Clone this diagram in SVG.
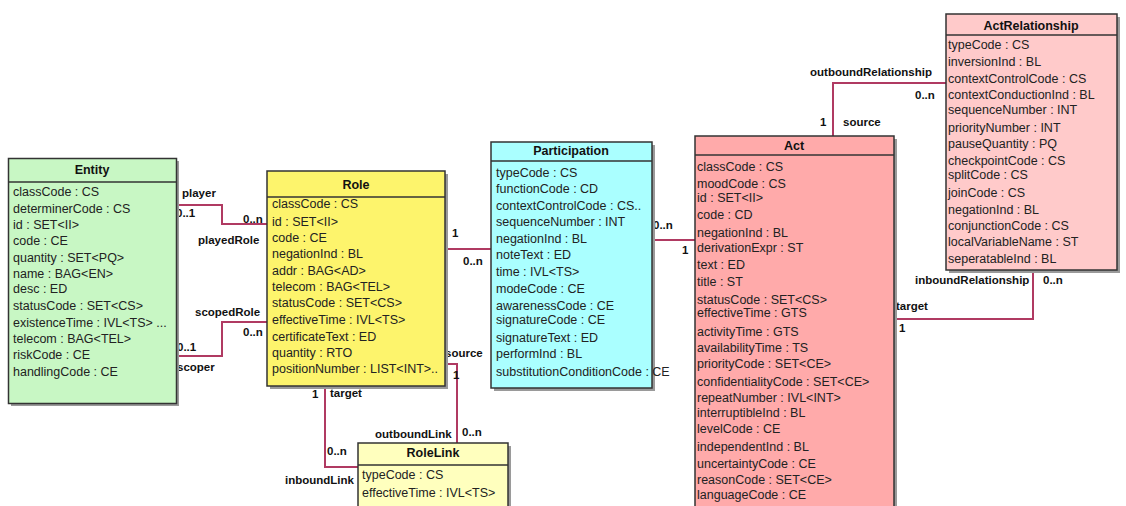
<svg xmlns="http://www.w3.org/2000/svg" width="1126" height="506" viewBox="0 0 1126 506">
<style>
.box{stroke:#333;stroke-width:1.5}
.sh{fill:#9a9a9a}
.hd{font-family:"Liberation Sans",Arial,sans-serif;font-size:12.5px;font-weight:bold;fill:#111;text-anchor:middle}
.at{font-family:"Liberation Sans",Arial,sans-serif;font-size:12.5px;fill:#222}
.lb{font-family:"Liberation Sans",Arial,sans-serif;font-size:11.5px;font-weight:bold;fill:#111}
.cn{fill:none;stroke:#b03a62;stroke-width:2}
</style>
<rect width="1126" height="506" fill="#fff"/>
<g id="connectors">
<polyline class="cn" points="176,205 222,205 222,224 267,224"/>
<polyline class="cn" points="267,322 222,322 222,356 176,356"/>
<polyline class="cn" points="445,249 491,249"/>
<polyline class="cn" points="652,240 695,240"/>
<polyline class="cn" points="833,136 833,83 946,83"/>
<polyline class="cn" points="1033,270 1033,319 894,319"/>
<polyline class="cn" points="325,386 325,467 358,467"/>
<polyline class="cn" points="445,364 457,364 457,443"/>
<text class="lb" x="182" y="197">player</text>
<text class="lb" x="176" y="217">0..1</text>
<text class="lb" x="243" y="223">0..n</text>
<text class="lb" x="198" y="244">playedRole</text>
<text class="lb" x="195" y="316">scopedRole</text>
<text class="lb" x="243" y="336">0..n</text>
<text class="lb" x="177" y="351">0..1</text>
<text class="lb" x="177" y="371">scoper</text>
<text class="lb" x="452" y="237">1</text>
<text class="lb" x="463" y="265">0..n</text>
<text class="lb" x="653" y="229">0..n</text>
<text class="lb" x="682" y="254">1</text>
<text class="lb" x="810" y="76">outboundRelationship</text>
<text class="lb" x="915" y="99">0..n</text>
<text class="lb" x="820" y="126">1</text>
<text class="lb" x="843" y="126">source</text>
<text class="lb" x="915" y="284">inboundRelationship</text>
<text class="lb" x="1043" y="284">0..n</text>
<text class="lb" x="896" y="310">target</text>
<text class="lb" x="899" y="332">1</text>
<text class="lb" x="445" y="357">source</text>
<text class="lb" x="453" y="379">1</text>
<text class="lb" x="312" y="398">1</text>
<text class="lb" x="330" y="397">target</text>
<text class="lb" x="375" y="438">outboundLink</text>
<text class="lb" x="462" y="436">0..n</text>
<text class="lb" x="327" y="455">0..n</text>
<text class="lb" x="285" y="484">inboundLink</text>
</g>
<g id="Entity">
<rect class="sh" x="11" y="161" width="168" height="245"/>
<rect class="box" x="8.5" y="158.5" width="168" height="245" fill="#c8f7c4"/>
<line class="box" x1="8.5" y1="182" x2="176.5" y2="182"/>
<text class="hd" x="92" y="174">Entity</text>
<text class="at" x="13" y="196">classCode : CS</text>
<text class="at" x="13" y="213">determinerCode : CS</text>
<text class="at" x="13" y="229">id : SET&lt;II&gt;</text>
<text class="at" x="13" y="245">code : CE</text>
<text class="at" x="13" y="262">quantity : SET&lt;PQ&gt;</text>
<text class="at" x="13" y="278">name : BAG&lt;EN&gt;</text>
<text class="at" x="13" y="293">desc : ED</text>
<text class="at" x="13" y="310">statusCode : SET&lt;CS&gt;</text>
<text class="at" x="13" y="327">existenceTime : IVL&lt;TS&gt; ...</text>
<text class="at" x="13" y="343">telecom : BAG&lt;TEL&gt;</text>
<text class="at" x="13" y="359">riskCode : CE</text>
<text class="at" x="13" y="376">handlingCode : CE</text>
</g>
<g id="Role">
<rect class="sh" x="270" y="174" width="178" height="215"/>
<rect class="box" x="267" y="171" width="178" height="215" fill="#fdf46c"/>
<line class="box" x1="267" y1="197" x2="445" y2="197"/>
<text class="hd" x="356" y="189">Role</text>
<text class="at" x="272" y="208">classCode : CS</text>
<text class="at" x="272" y="226">id : SET&lt;II&gt;</text>
<text class="at" x="272" y="242">code : CE</text>
<text class="at" x="272" y="258">negationInd : BL</text>
<text class="at" x="272" y="275">addr : BAG&lt;AD&gt;</text>
<text class="at" x="272" y="291">telecom : BAG&lt;TEL&gt;</text>
<text class="at" x="272" y="307">statusCode : SET&lt;CS&gt;</text>
<text class="at" x="272" y="324">effectiveTime : IVL&lt;TS&gt;</text>
<text class="at" x="272" y="341">certificateText : ED</text>
<text class="at" x="272" y="357">quantity : RTO</text>
<text class="at" x="272" y="373">positionNumber : LIST&lt;INT&gt;..</text>
</g>
<g id="Participation">
<rect class="sh" x="494" y="145" width="161" height="246"/>
<rect class="box" x="491" y="142" width="161" height="246" fill="#aaffff"/>
<line class="box" x1="491" y1="161" x2="652" y2="161"/>
<text class="hd" x="571" y="155">Participation</text>
<text class="at" x="496" y="177">typeCode : CS</text>
<text class="at" x="496" y="193">functionCode : CD</text>
<text class="at" x="496" y="210">contextControlCode : CS..</text>
<text class="at" x="496" y="226">sequenceNumber : INT</text>
<text class="at" x="496" y="243">negationInd : BL</text>
<text class="at" x="496" y="259">noteText : ED</text>
<text class="at" x="496" y="276">time : IVL&lt;TS&gt;</text>
<text class="at" x="496" y="293">modeCode : CE</text>
<text class="at" x="496" y="310">awarenessCode : CE</text>
<text class="at" x="496" y="324">signatureCode : CE</text>
<text class="at" x="496" y="342">signatureText : ED</text>
<text class="at" x="496" y="358">performInd : BL</text>
<text class="at" x="496" y="376">substitutionConditionCode : CE</text>
</g>
<g id="Act">
<rect class="sh" x="698" y="139" width="199" height="380"/>
<rect class="box" x="695" y="136" width="199" height="380" fill="#ffaaaa"/>
<line class="box" x1="695" y1="155" x2="894" y2="155"/>
<text class="hd" x="794" y="150">Act</text>
<text class="at" x="697" y="171">classCode : CS</text>
<text class="at" x="697" y="188">moodCode : CS</text>
<text class="at" x="697" y="202">id : SET&lt;II&gt;</text>
<text class="at" x="697" y="219">code : CD</text>
<text class="at" x="697" y="237">negationInd : BL</text>
<text class="at" x="697" y="252">derivationExpr : ST</text>
<text class="at" x="697" y="269">text : ED</text>
<text class="at" x="697" y="286">title : ST</text>
<text class="at" x="697" y="304">statusCode : SET&lt;CS&gt;</text>
<text class="at" x="697" y="317">effectiveTime : GTS</text>
<text class="at" x="697" y="336">activityTime : GTS</text>
<text class="at" x="697" y="352">availabilityTime : TS</text>
<text class="at" x="697" y="368">priorityCode : SET&lt;CE&gt;</text>
<text class="at" x="697" y="386">confidentialityCode : SET&lt;CE&gt;</text>
<text class="at" x="697" y="402">repeatNumber : IVL&lt;INT&gt;</text>
<text class="at" x="697" y="417">interruptibleInd : BL</text>
<text class="at" x="697" y="433">levelCode : CE</text>
<text class="at" x="697" y="451">independentInd : BL</text>
<text class="at" x="697" y="468">uncertaintyCode : CE</text>
<text class="at" x="697" y="484">reasonCode : SET&lt;CE&gt;</text>
<text class="at" x="697" y="499">languageCode : CE</text>
</g>
<g id="ActRelationship">
<rect class="sh" x="949" y="17" width="171" height="256"/>
<rect class="box" x="946" y="14" width="171" height="256" fill="#ffcaca"/>
<line class="box" x1="946" y1="35" x2="1117" y2="35"/>
<text class="hd" x="1031" y="30">ActRelationship</text>
<text class="at" x="948" y="49">typeCode : CS</text>
<text class="at" x="948" y="66">inversionInd : BL</text>
<text class="at" x="948" y="83">contextControlCode : CS</text>
<text class="at" x="948" y="99">contextConductionInd : BL</text>
<text class="at" x="948" y="114">sequenceNumber : INT</text>
<text class="at" x="948" y="132">priorityNumber : INT</text>
<text class="at" x="948" y="148">pauseQuantity : PQ</text>
<text class="at" x="948" y="165">checkpointCode : CS</text>
<text class="at" x="948" y="179">splitCode : CS</text>
<text class="at" x="948" y="197">joinCode : CS</text>
<text class="at" x="948" y="214">negationInd : BL</text>
<text class="at" x="948" y="230">conjunctionCode : CS</text>
<text class="at" x="948" y="246">localVariableName : ST</text>
<text class="at" x="948" y="263">seperatableInd : BL</text>
</g>
<g id="RoleLink">
<rect class="sh" x="361" y="446" width="150" height="80"/>
<rect class="box" x="358" y="443" width="150" height="80" fill="#ffffbe"/>
<line class="box" x1="358" y1="465" x2="508" y2="465"/>
<text class="hd" x="433" y="457">RoleLink</text>
<text class="at" x="362" y="479">typeCode : CS</text>
<text class="at" x="362" y="497">effectiveTime : IVL&lt;TS&gt;</text>
</g>
</svg>
